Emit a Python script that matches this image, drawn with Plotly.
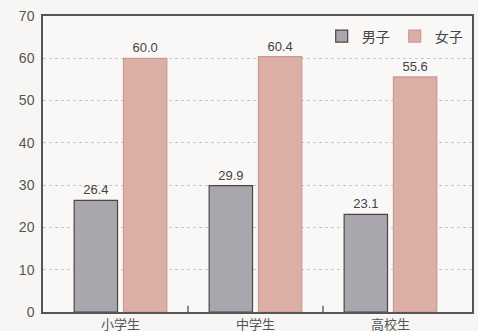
import plotly.graph_objects as go

categories = ["小学生", "中学生", "高校生"]
boys = [26.4, 29.9, 23.1]
girls = [60.0, 60.4, 55.6]
y_ticks = [0, 10, 20, 30, 40, 50, 60, 70]

font_family = "Liberation Sans, Noto Sans CJK JP, sans-serif"

fig = go.Figure()
fig.add_trace(go.Bar(
    name="男子", x=categories, y=boys,
    text=[f"{v:.1f}" for v in boys], textposition="outside",
    marker=dict(color="#aaa6ae", line=dict(color="#4a4648", width=1.2)),
    textfont=dict(size=13, color="#444"), cliponaxis=False,
))
fig.add_trace(go.Bar(
    name="女子", x=categories, y=girls,
    text=[f"{v:.1f}" for v in girls], textposition="outside",
    marker=dict(color="#dbaea6", line=dict(color="#c79a94", width=1.2)),
    textfont=dict(size=13, color="#444"), cliponaxis=False,
))

fig.update_layout(
    width=478, height=331,
    margin=dict(l=43, r=6, t=16, b=19),
    paper_bgcolor="#f7f6f4", plot_bgcolor="#f9f8f6",
    barmode="group", bargap=0.27, bargroupgap=0.12,
    font=dict(family=font_family, size=14, color="#555"),
    showlegend=True,
    legend=dict(orientation="h", x=0.99, y=0.985, xanchor="right", yanchor="top",
                bgcolor="rgba(0,0,0,0)", font=dict(size=14, color="#444"),
                itemwidth=30, traceorder="normal"),
    xaxis=dict(range=[-0.574, 2.604], showgrid=False, showline=True, linecolor="#555",
               linewidth=1.5, mirror=True, ticks="", ticklabelstandoff=0, automargin=False,
               tickfont=dict(size=13, color="#555")),
    yaxis=dict(range=[0, 70], tickvals=y_ticks, showgrid=True, gridcolor="#c9c7c5",
               griddash="dot", gridwidth=1, showline=True, linecolor="#555",
               linewidth=1.5, mirror=True, ticks="", zeroline=False, ticklabelstandoff=4,
               automargin=False, tickfont=dict(size=14, color="#555")),
)

for xpos in [0.5, 1.5]:
    fig.add_shape(type="line", xref="x", yref="y", x0=xpos, x1=xpos, y0=0, y1=1.5,
                  line=dict(color="#444", width=1.2))

fig.write_html("out.html")
